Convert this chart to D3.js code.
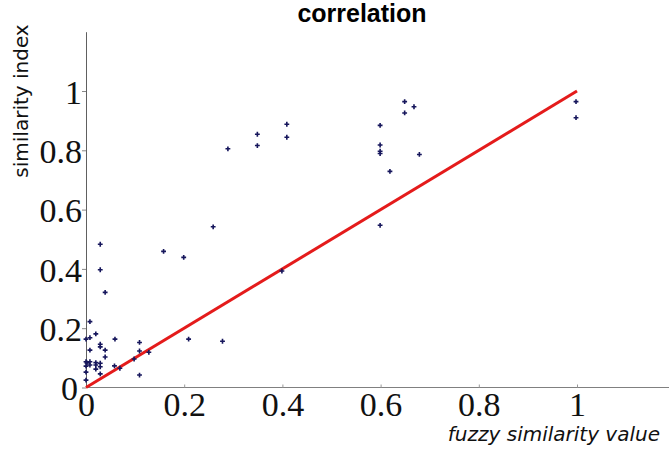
<!DOCTYPE html>
<html>
<head>
<meta charset="utf-8">
<script src="https://cdn.jsdelivr.net/npm/d3@7"></script>
<style>
  body { margin: 0; background: #fff; }
</style>
</head>
<body>
<div class="chart"></div>
<script>
// fuzzy similarity value (x) vs similarity index (y)
const fuzzy = [
  0.008, 0.000, 0.008, 0.020, 0.029, 0.029, 0.039, 0.059, 0.109, 0.109,
  0.128, 0.008, 0.039, 0.000, 0.008, 0.002, 0.020, 0.029, 0.020, 0.029,
  0.008, 0.020, 0.029, 0.058, 0.069, 0.098, 0.109, 0.000, 0.000, 0.000,
  0.029, 0.029, 0.039,
  0.409, 0.349, 0.409, 0.349, 0.289, 0.259, 0.158, 0.199, 0.399, 0.209, 0.278,
  0.649, 0.668, 0.649, 0.599, 0.599, 0.599, 0.599, 0.679, 0.619, 0.599,
  0.998, 0.998
]
const simIndex = [
  0.222, 0.163, 0.168, 0.181, 0.146, 0.137, 0.126, 0.163, 0.152, 0.123,
  0.119, 0.126, 0.103, 0.087, 0.087, 0.083, 0.084, 0.082, 0.076, 0.070,
  0.076, 0.062, 0.046, 0.073, 0.065, 0.096, 0.042, 0.052, 0.025, 0.072,
  0.483, 0.397, 0.321,
  0.888, 0.854, 0.844, 0.816, 0.805, 0.542, 0.459, 0.439, 0.393, 0.163, 0.156,
  0.964, 0.947, 0.926, 0.884, 0.818, 0.797, 0.789, 0.786, 0.729, 0.547,
  0.964, 0.910
]
const fitLine = [[0, 0], [1, 1]]
const ticks = [0, 0.2, 0.4, 0.6, 0.8, 1]

const TITLE = 'correlation'
const X_LABEL = 'fuzzy similarity value'
const Y_LABEL = 'similarity index'

const width = 669
const height = 454

const x = d3.scaleLinear().domain([0, 1.2]).range([86, 675.2])
const y = d3.scaleLinear().domain([0, 1.2]).range([387.5, 31.7])

const svg = d3.select(".chart").append("svg")
  .attr("width", width)
  .attr("height", height)
  .style("display", "block")

svg.append("rect").attr("width", width).attr("height", height).attr("fill", "#fff")

const fmt = d3.format("~g")

// x axis
const gx = svg.append("g")
  .attr("transform", `translate(0,${y(0)})`)
  .call(d3.axisBottom(x).tickValues(ticks).tickFormat(fmt)
    .tickSizeInner(-3).tickSizeOuter(0).tickPadding(4))
gx.select(".domain").attr("stroke", "#808080").attr("d", `M${x(0)},0H${width}`)
gx.selectAll(".tick line").attr("stroke", "#999")
gx.selectAll(".tick text")
  .attr("font-family", "'Liberation Serif', serif")
  .attr("font-size", 34)
  .attr("fill", "#111")

// y axis
const gy = svg.append("g")
  .attr("transform", `translate(${x(0)},0)`)
  .call(d3.axisLeft(y).tickValues(ticks).tickFormat(fmt)
    .tickSizeInner(4).tickSizeOuter(0).tickPadding(0))
gy.select(".domain").attr("stroke", "#606060")
gy.selectAll(".tick line").attr("stroke", "#888")
gy.selectAll(".tick text")
  .attr("font-family", "'Liberation Serif', serif")
  .attr("font-size", 34)
  .attr("fill", "#111")
  .attr("dy", "0.36em")
// the y "0" sits a bit left of the x "0"
gy.selectAll(".tick text").filter(d => d === 0).attr("x", -8)

// red reference line
svg.append("path")
  .datum(fitLine)
  .attr("fill", "none")
  .attr("stroke", "#e41b1b")
  .attr("stroke-width", 3)
  .attr("d", d3.line().x(d => x(d[0])).y(d => y(d[1])))

// points
const pts = fuzzy.map((v, i) => [v, simIndex[i]])
svg.append("g")
  .selectAll("path")
  .data(pts)
  .join("path")
    .attr("transform", d => `translate(${x(d[0])},${y(d[1])})`)
    .attr("d", d3.symbol(d3.symbolCross, 13))
    .attr("fill", "#16165c")

// texts
svg.append("text")
  .attr("x", 362).attr("y", 22)
  .attr("text-anchor", "middle")
  .attr("font-family", "'Liberation Sans', Arial, sans-serif")
  .attr("font-weight", "bold")
  .attr("font-size", 25)
  .text(TITLE)

svg.append("text")
  .attr("x", 660).attr("y", 441)
  .attr("text-anchor", "end")
  .attr("font-family", "'DejaVu Sans', sans-serif")
  .attr("font-style", "italic")
  .attr("font-size", 20)
  .attr("fill", "#111")
  .text(X_LABEL)

svg.append("text")
  .attr("transform", "translate(28,101) rotate(-90)")
  .attr("text-anchor", "middle")
  .attr("font-family", "'DejaVu Sans', sans-serif")
  .attr("font-size", 20)
  .attr("fill", "#111")
  .text(Y_LABEL)
</script>
</body>
</html>
